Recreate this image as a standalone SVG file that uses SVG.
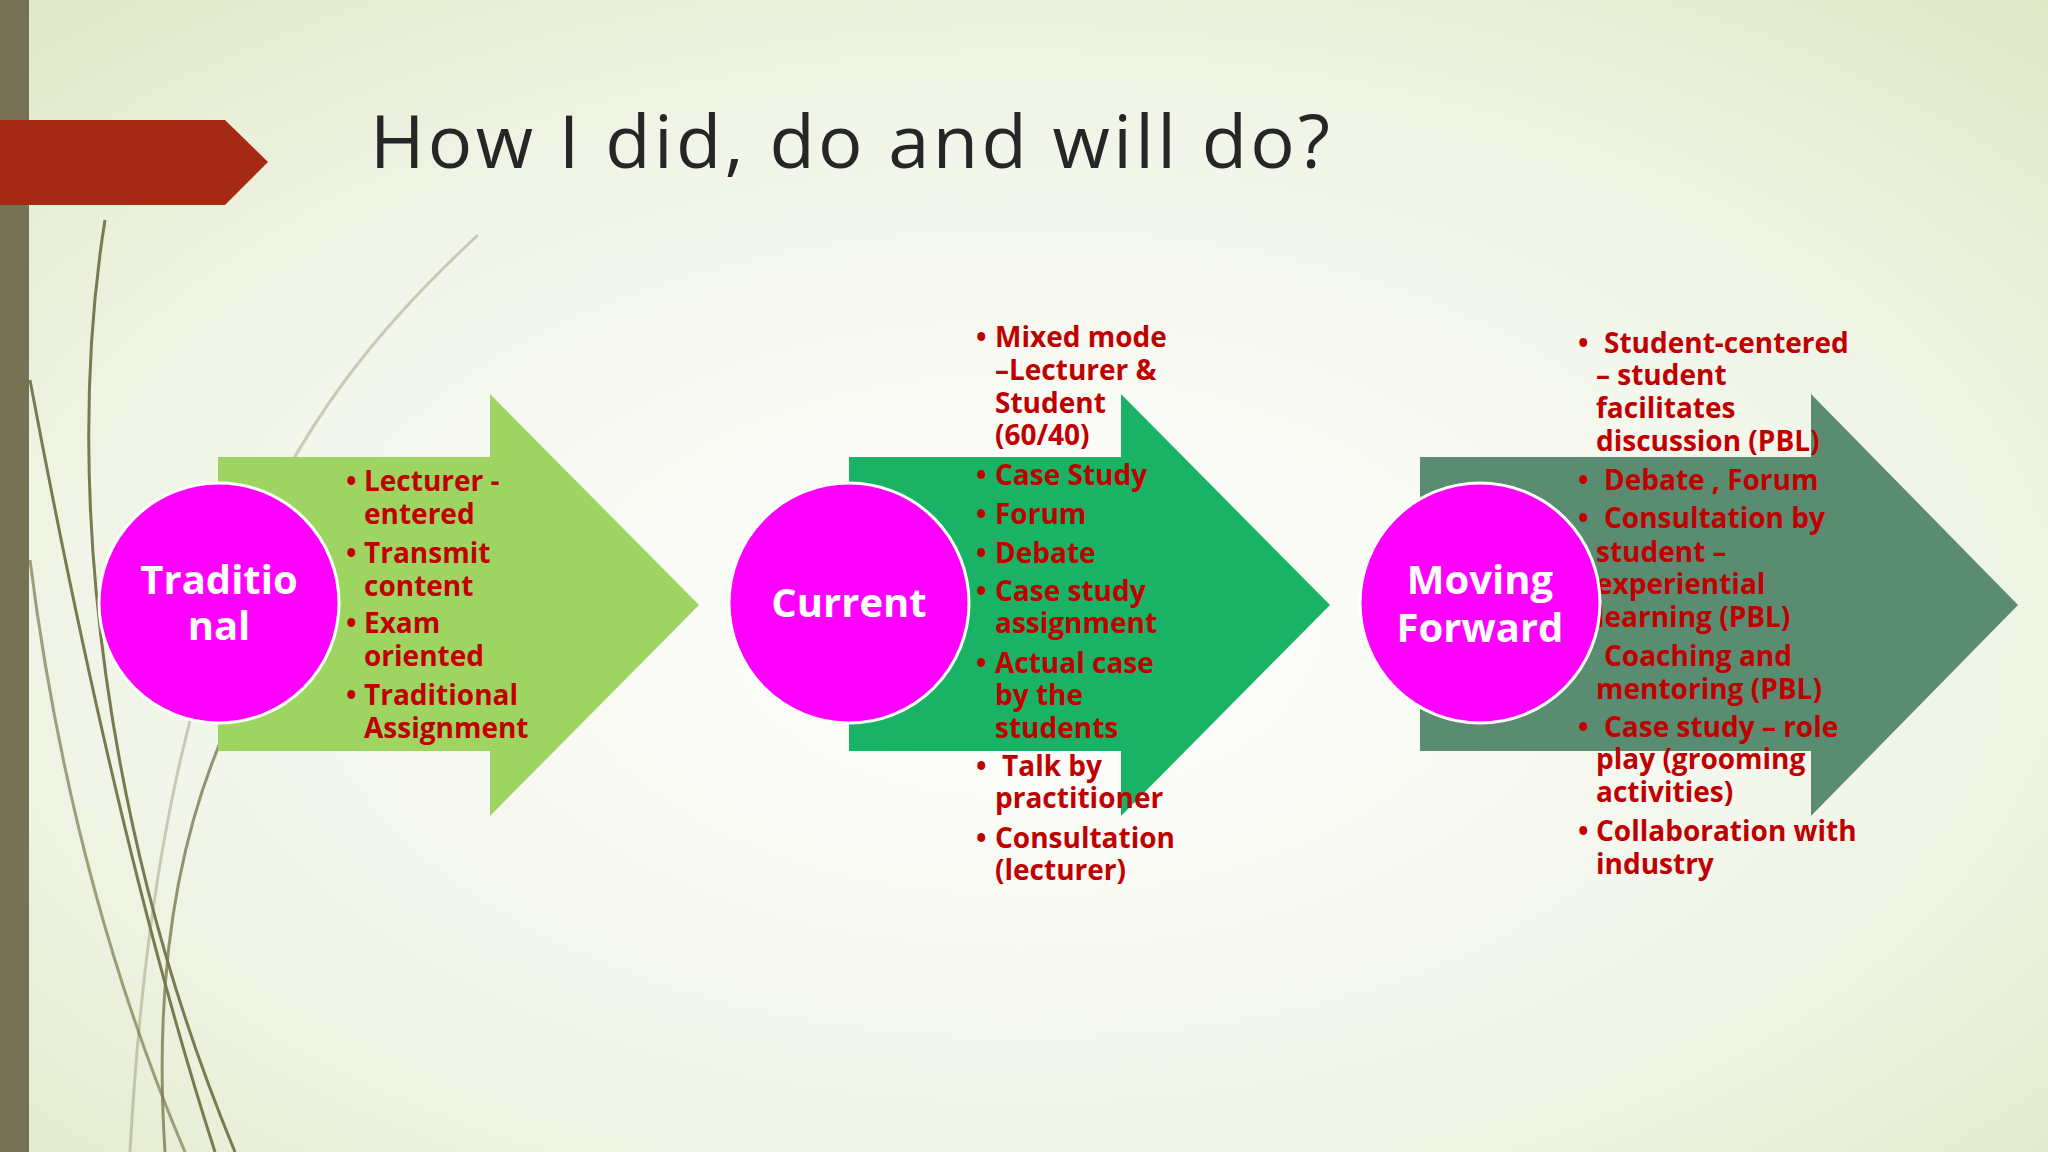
<svg xmlns="http://www.w3.org/2000/svg" width="2048" height="1152" viewBox="0 0 2048 1152">
<defs>
<radialGradient id="bg" cx="0.5" cy="0.55" r="0.75">
<stop offset="0" stop-color="#ffffff"/><stop offset="0.6" stop-color="#f1f5e8"/><stop offset="1" stop-color="#dfe8c6"/>
</radialGradient>
<style>
.t{font-family:"Open Sans","Liberation Sans",sans-serif;font-weight:bold;font-size:28px;fill:#c00000}
.c{font-family:"Open Sans","Liberation Sans",sans-serif;font-weight:bold;font-size:40px;fill:#ffffff;text-anchor:middle}
.circ{fill:#ff00ff;stroke:#ffffff;stroke-width:3}
.deco{fill:none;stroke:#7a7a50;stroke-width:3}
</style>
</defs>
<rect width="2048" height="1152" fill="url(#bg)"/>
<g id="decor">
<path class="deco" d="M105 220 C 60 500, 110 850, 235 1152"/>
<path class="deco" d="M30 380 C 90 700, 150 950, 215 1152" stroke-width="4"/>
<path class="deco" d="M30 560 C 60 800, 120 1000, 185 1152" opacity="0.7"/>
<path class="deco" d="M478 235 C 300 400, 160 600, 130 1152" opacity="0.35"/>
<path class="deco" d="M230 720 C 170 850, 155 1000, 165 1152" opacity="0.8"/>
</g>
<rect x="0" y="0" width="29" height="1152" fill="#777155"/>
<polygon points="0,120 225,120 268,162 225,205 0,205" fill="#a52a14"/>
<text x="370" y="168" font-family="Open Sans, Liberation Sans, sans-serif" font-size="74" fill="#262626" textLength="960" lengthAdjust="spacing">How I did, do and will do?</text>
<g id="arrow1"><polygon points="218,457 490,457 490,394 699,605 490,816 490,751 218,751" fill="#9ed562"/></g>
<g id="arrow2"><polygon points="849,457 1121,457 1121,394 1330,605 1121,816 1121,751 849,751" fill="#1ab366"/></g>
<g id="arrow3"><polygon points="1420,457 1811,457 1811,394 2018,605 1811,816 1811,751 1420,751" fill="#5a8c72"/></g>
<g id="text1" class="t">
<text x="346" y="491">•</text><text x="364" y="491">Lecturer -</text>
<text x="364" y="524">entered</text>
<text x="346" y="563">•</text><text x="364" y="563">Transmit</text>
<text x="364" y="596">content</text>
<text x="346" y="633">•</text><text x="364" y="633">Exam</text>
<text x="364" y="666">oriented</text>
<text x="346" y="705">•</text><text x="364" y="705">Traditional</text>
<text x="364" y="738">Assignment</text>
</g>
<g id="text2" class="t">
<text x="976" y="347">•</text><text x="995" y="347">Mixed mode</text>
<text x="995" y="380">–Lecturer &amp;</text>
<text x="995" y="413">Student</text>
<text x="995" y="445">(60/40)</text>
<text x="976" y="485">•</text><text x="995" y="485">Case Study</text>
<text x="976" y="524">•</text><text x="995" y="524">Forum</text>
<text x="976" y="563">•</text><text x="995" y="563">Debate</text>
<text x="976" y="601">•</text><text x="995" y="601">Case study</text>
<text x="995" y="633">assignment</text>
<text x="976" y="673">•</text><text x="995" y="673">Actual case</text>
<text x="995" y="705">by the</text>
<text x="995" y="738">students</text>
<text x="976" y="776">•</text><text x="1002" y="776">Talk by</text>
<text x="995" y="808">practitioner</text>
<text x="976" y="848">•</text><text x="995" y="848">Consultation</text>
<text x="995" y="880">(lecturer)</text>
</g>
<g id="text3" class="t">
<text x="1578" y="353">•</text><text x="1604" y="353">Student-centered</text>
<text x="1596" y="385">– student</text>
<text x="1596" y="418">facilitates</text>
<text x="1596" y="451">discussion (PBL)</text>
<text x="1578" y="490">•</text><text x="1604" y="490">Debate , Forum</text>
<text x="1578" y="528">•</text><text x="1604" y="528">Consultation by</text>
<text x="1596" y="562">student –</text>
<text x="1596" y="594">experiential</text>
<text x="1596" y="627">learning (PBL)</text>
<text x="1578" y="666">•</text><text x="1604" y="666">Coaching and</text>
<text x="1596" y="699">mentoring (PBL)</text>
<text x="1578" y="737">•</text><text x="1604" y="737">Case study – role</text>
<text x="1596" y="769">play (grooming</text>
<text x="1596" y="802">activities)</text>
<text x="1578" y="841">•</text><text x="1596" y="841">Collaboration with</text>
<text x="1596" y="874">industry</text>
</g>
<g id="node1"><circle class="circ" cx="219" cy="603" r="120"/><text class="c" x="219" y="594">Traditio</text><text class="c" x="219" y="640">nal</text></g>
<g id="node2"><circle class="circ" cx="849" cy="603" r="120"/><text class="c" x="849" y="617">Current</text></g>
<g id="node3"><circle class="circ" cx="1480" cy="603" r="120"/><text class="c" x="1480" y="594">Moving</text><text class="c" x="1480" y="642">Forward</text></g>
</svg>
